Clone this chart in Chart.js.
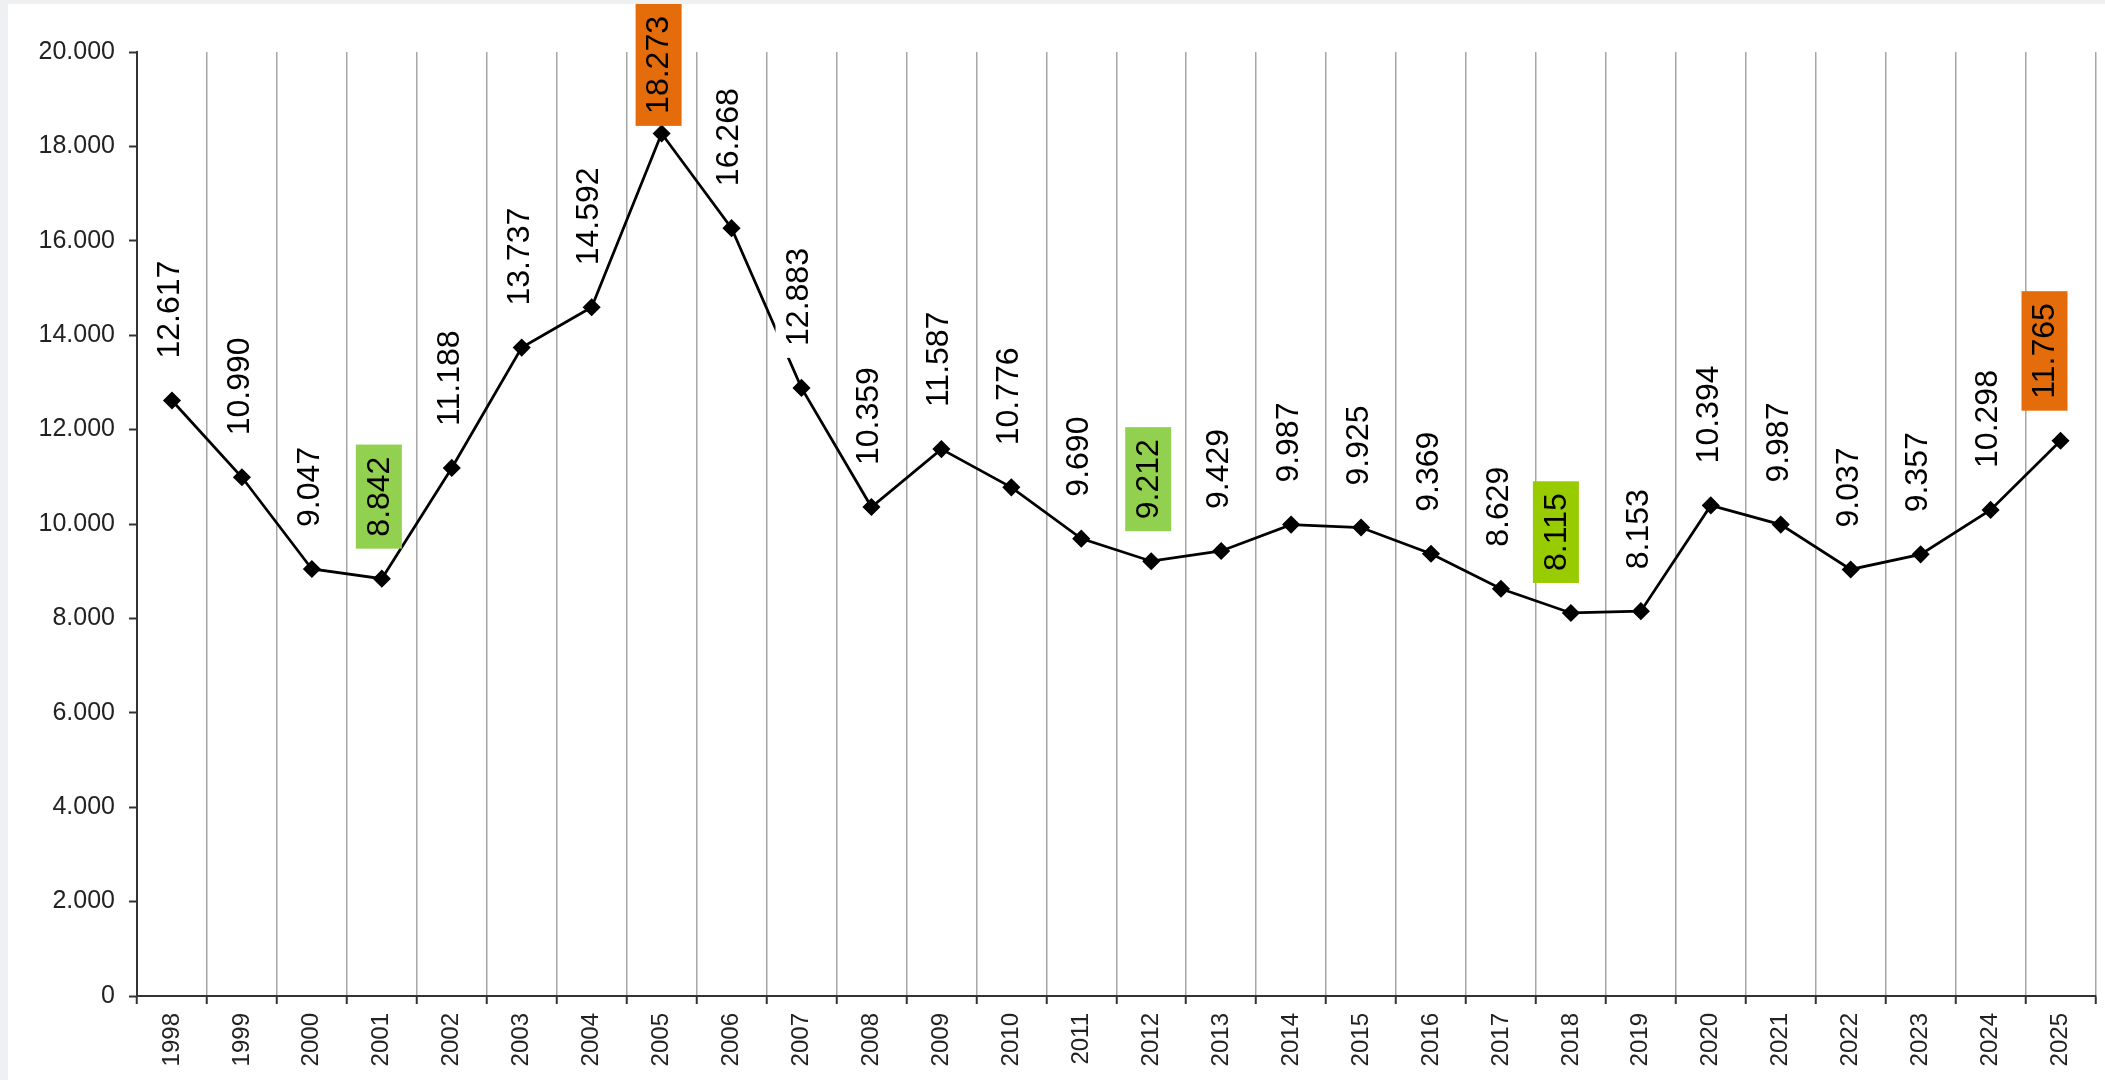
<!DOCTYPE html>
<html lang="de">
<head>
  <meta charset="UTF-8" />
  <title>Jahreswerte 1998–2025</title>
  <script src="https://cdn.jsdelivr.net/npm/chart.js"></script>
  <style>
    body {
      margin: 0;
      background: #eff0f2;
      overflow: hidden;
    }
    .panel {
      position: absolute;
      left: 8px;
      top: 4px;
      width: 2097px;
      height: 1076px;
      background: #fff;
    }
  </style>
</head>
<body>
  <div class="panel">
    <canvas id="yearChart"></canvas>
  </div>

  <script>
    const years = ["1998", "1999", "2000", "2001", "2002", "2003", "2004", "2005", "2006", "2007",
                   "2008", "2009", "2010", "2011", "2012", "2013", "2014", "2015", "2016", "2017",
                   "2018", "2019", "2020", "2021", "2022", "2023", "2024", "2025"];
    const values = [12617, 10990, 9047, 8842, 11188, 13737, 14592, 18273, 16268, 12883,
                    10359, 11587, 10776, 9690, 9212, 9429, 9987, 9925, 9369, 8629,
                    8115, 8153, 10394, 9987, 9037, 9357, 10298, 11765];
    const yTicks = [0, 2000, 4000, 6000, 8000, 10000, 12000, 14000, 16000, 18000, 20000];

    // highlighted labels: lows in green, highs in orange
    const labelFill = {
      "2001": "#92D050", "2012": "#92D050", "2018": "#99CC00",
      "2005": "#E46C0A", "2025": "#E46C0A",
      "2007": "#ffffff"
    };
    const labelNudge = { "2018": -12, "2025": -13 };

    const FONT = '"Liberation Sans", Arial, sans-serif';

    function dotted(v) {
      return String(v).replace(/\B(?=(\d{3})+(?!\d))/g, ".");
    }

    // rotated value labels above each point
    const valueLabels = {
      id: "valueLabels",
      afterDatasetsDraw(chart) {
        const ctx = chart.ctx;
        const meta = chart.getDatasetMeta(0);
        ctx.save();
        ctx.font = "32px " + FONT;
        meta.data.forEach((pt, i) => {
          const text = dotted(values[i]);
          const len = ctx.measureText(text).width;
          const fill = labelFill[years[i]];
          const x = pt.x - 3 + (labelNudge[years[i]] || 0);
          let base = pt.y - 42;
          if (base - len - 12 < 0) base = len + 12;
          if (fill) {
            ctx.fillStyle = fill;
            ctx.fillRect(x - 23, base - len - 12, 46, len + 24);
          }
          ctx.save();
          ctx.translate(x, base);
          ctx.rotate(-Math.PI / 2);
          ctx.fillStyle = "#000";
          ctx.textAlign = "left";
          ctx.textBaseline = "middle";
          ctx.fillText(text, 0, 1);
          ctx.restore();
        });
        ctx.restore();
      }
    };

    new Chart(document.getElementById("yearChart"), {
      type: "line",
      data: {
        labels: years,
        datasets: [{
          data: values,
          borderColor: "#000",
          borderWidth: 2.75,
          tension: 0,
          pointStyle: "rectRot",
          pointRadius: 8,
          pointBackgroundColor: "#000",
          pointBorderColor: "#000",
          pointBorderWidth: 1.5
        }]
      },
      options: {
        responsive: true,
        maintainAspectRatio: false,
        animation: false,
        layout: { padding: { top: 48, right: 8, left: 0, bottom: 0 } },
        plugins: {
          legend: { display: false },
          tooltip: { enabled: false }
        },
        scales: {
          x: {
            offset: true,
            afterFit: s => { s.height = 84; },
            grid: {
              offset: true,
              color: "#a6a6a6",
              lineWidth: 1.5,
              tickLength: 8,
              tickColor: "#333",
              tickWidth: 2
            },
            border: { color: "#333", width: 2 },
            ticks: {
              autoSkip: false,
              minRotation: 90,
              maxRotation: 90,
              padding: 9,
              color: "#222",
              font: { family: FONT, size: 24 }
            }
          },
          y: {
            min: 0,
            max: 20000,
            afterFit: s => { s.width = 129; },
            afterBuildTicks: s => { s.ticks = yTicks.map(v => ({ value: v })); },
            grid: {
              drawOnChartArea: false,
              tickLength: 8,
              tickColor: "#333",
              tickWidth: 2
            },
            border: { color: "#333", width: 2 },
            ticks: {
              padding: 14,
              color: "#222",
              font: { family: FONT, size: 25 },
              callback: v => dotted(v)
            }
          }
        }
      },
      plugins: [valueLabels]
    });
  </script>
</body>
</html>
